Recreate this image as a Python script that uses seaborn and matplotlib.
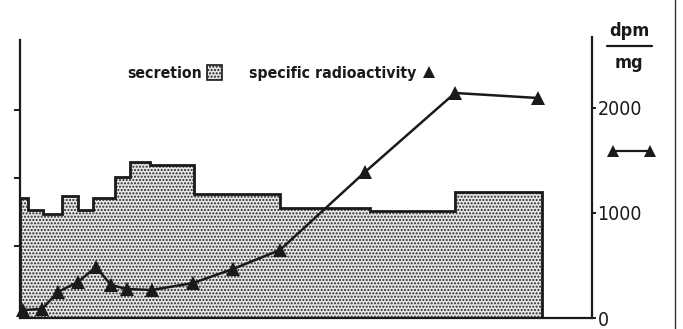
import matplotlib
matplotlib.use("Agg")
import matplotlib.pyplot as plt
import seaborn as sns
import pandas as pd
from matplotlib.patches import Patch
from matplotlib.lines import Line2D

# Secretion (arbitrary units) as a step profile over fraction edges
edges = [0, 1.6, 4.6, 8.4, 11.6, 14.6, 19.0, 22.0, 26.0, 34.8, 52.0, 70.0, 87.0, 104.4]
secretion = [1.71, 1.53, 1.47, 1.74, 1.53, 1.71, 2.01, 2.23, 2.19, 1.77, 1.56, 1.51, 1.79]

# Specific radioactivity (dpm/mg)
time = [0.6, 4.4, 7.6, 11.6, 15.2, 18.2, 21.4, 26.4, 34.6, 42.6, 52.0, 69.0, 87.0, 103.6]
activity = [76, 86, 248, 343, 486, 314, 276, 267, 333, 467, 648, 1390, 2143, 2095]

right_ticks = [0, 1000, 2000]
right_labels = ["0", "1000", "2000"]
left_ticks = [1, 2, 3]

sns.set_theme(style="white")
plt.rcParams["font.family"] = ["DejaVu Sans"]
plt.rcParams["font.stretch"] = "condensed"
plt.rcParams["hatch.linewidth"] = 1.0

INK = "#1a1a1a"
DOT = "#262626"
PAPER = "#e6e6e6"

fig = plt.figure(figsize=(6.83, 3.29), dpi=100)
ax = fig.add_axes([20 / 683, 1 - 318 / 329, 572 / 683, 281 / 329])
ax2 = ax.twinx()

ymin_left = -0.057
ax.set_xlim(0, 114.4)
ax.set_ylim(ymin_left, 4.07)
ax2.set_ylim(0, 2676)

# stippled secretion profile
ax.fill_between(edges, secretion + [secretion[-1]], ymin_left, step="post",
                facecolor=PAPER, edgecolor=DOT, linewidth=0, hatch=".....", zorder=1)
ax.stairs(secretion, edges, baseline=ymin_left, fill=False,
          color=INK, linewidth=2.0, zorder=2)

df = pd.DataFrame({"time": time, "activity": activity})
sns.lineplot(data=df, x="time", y="activity", ax=ax2, color=INK,
             linewidth=1.8, marker="^", markersize=10, markeredgewidth=0,
             markerfacecolor=INK, clip_on=False, zorder=3)

for a in (ax, ax2):
    a.set_xlabel("")
    a.set_ylabel("")
    a.grid(False)
    for s in a.spines.values():
        s.set_visible(False)
    a.set_facecolor("none")

ax.spines["left"].set_visible(True)
ax.spines["left"].set_bounds(ymin_left, 4.03)
ax.spines["bottom"].set_visible(True)
for s in ("left", "bottom"):
    ax.spines[s].set_linewidth(1.6)
    ax.spines[s].set_color(INK)
ax2.spines["right"].set_visible(True)
ax2.spines["right"].set_linewidth(1.6)
ax2.spines["right"].set_color(INK)

ax.set_xticks([])
ax.set_yticks(left_ticks)
ax.set_yticklabels([])
ax.tick_params(axis="y", direction="out", length=4, width=1.4, color=INK, left=True)

ax2.set_yticks(right_ticks)
ax2.set_yticklabels(right_labels)
ax2.tick_params(axis="y", direction="out", length=3, width=1.4, color=INK,
                right=True, labelsize=14, pad=1, labelcolor=INK)

# legend: label text first, then the symbol
handles = [Patch(facecolor=PAPER, edgecolor=INK, hatch=".....", linewidth=1.2),
           Line2D([], [], linestyle="none", marker="^", markersize=8,
                  color=INK, markeredgewidth=0)]
leg = ax.legend(handles, ["secretion", "specific radioactivity"], ncol=2,
                markerfirst=False, frameon=False, loc="center left",
                bbox_to_anchor=((127 - 6 - 20) / 572, (318 - 73) / 281),
                prop={"size": 11.3, "weight": "bold", "stretch": "condensed"},
                handlelength=1.0, handleheight=1.1, handletextpad=0.3,
                columnspacing=1.7, borderpad=0.4, borderaxespad=0)
for t in leg.get_texts():
    t.set_color(INK)

# unit label above the right axis
fig.text(629 / 683, 1 - 31 / 329, "dpm", ha="center", va="center",
         fontsize=13, weight="bold", color=INK)
fig.text(629 / 683, 1 - 63 / 329, "mg", ha="center", va="center",
         fontsize=13, weight="bold", color=INK)
fig.add_artist(Line2D([607 / 683, 652 / 683], [1 - 46 / 329, 1 - 46 / 329],
                      transform=fig.transFigure, color=INK, linewidth=1.6))

# line symbol key next to the right axis
fig.add_artist(Line2D([613 / 683, 650 / 683], [1 - 151 / 329, 1 - 151 / 329],
                      transform=fig.transFigure, color=INK, linewidth=1.6,
                      marker="^", markersize=9, markeredgewidth=0))

# outer frame edge
fig.add_artist(Line2D([675 / 683, 675 / 683], [0.0, 1.0],
                      transform=fig.transFigure, color="#333333", linewidth=1.0))

fig.savefig("out.png", dpi=100)
